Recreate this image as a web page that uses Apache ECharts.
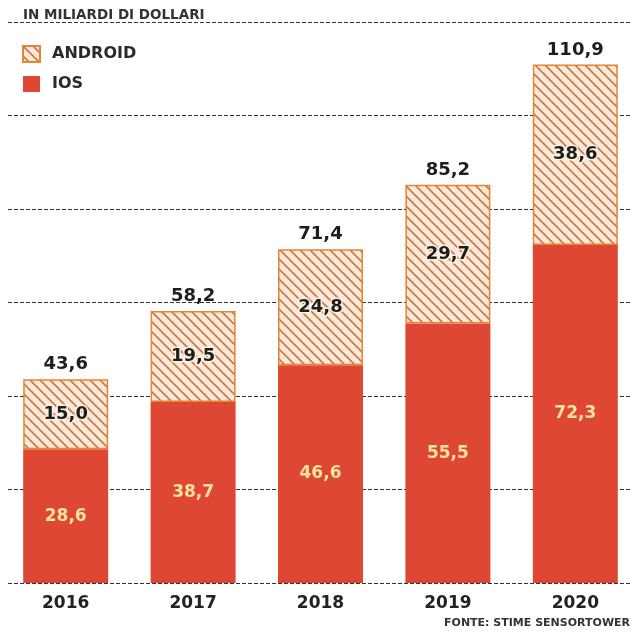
<!DOCTYPE html>
<html><head><meta charset="utf-8">
<script src="https://cdn.jsdelivr.net/npm/echarts@6/dist/echarts.min.js"></script>
<style>html,body{margin:0;padding:0;background:#fff}#c{width:640px;height:635px}</style>
</head><body><div id="c"></div>
<script>
const years = ['2016','2017','2018','2019','2020'];
const iosValues = [28.6, 38.7, 46.6, 55.5, 72.3];
const androidValues = [15.0, 19.5, 24.8, 29.7, 38.6];
const totalValues = [43.6, 58.2, 71.4, 85.2, 110.9];

const FONT = '"DejaVu Sans", sans-serif';
const RED = '#de4733';

function hatch(){
  const c = document.createElement('canvas');
  c.width = c.height = 10;
  const g = c.getContext('2d');
  g.fillStyle = '#fbe9d8'; g.fillRect(0,0,10,10);
  g.strokeStyle = '#c9764a'; g.lineWidth = 1.6;
  g.beginPath();
  g.moveTo(-2,-2); g.lineTo(12,12);
  g.moveTo(-2,8); g.lineTo(2,12);
  g.moveTo(8,-2); g.lineTo(12,2);
  g.stroke();
  return c;
}

const chart = echarts.init(document.getElementById('c'), null, {renderer:'canvas'});
const fmt = p => p.value.toFixed(1).replace('.', ',');
chart.setOption({
  animation:false,
  title:[
    {text:'IN MILIARDI DI DOLLARI', left:18, top:3, textStyle:{fontFamily:FONT, fontWeight:'bold', fontSize:13.5, color:'#333'}},
    {text:'FONTE: STIME SENSORTOWER', right:5, top:613, textStyle:{fontFamily:FONT, fontWeight:'bold', fontSize:11, color:'#333'}}
  ],
  legend:{
    data:['ANDROID','IOS'], orient:'vertical', left:17, top:40, itemWidth:17, itemHeight:16, itemGap:13,
    icon:'rect',
    textStyle:{fontFamily:FONT, fontWeight:'bold', fontSize:16, color:'#2a2a2a', padding:[0,0,0,7]}
  },
  grid:[
    {left:2, right:1, top:22, bottom:52},
    {left:8, right:8, top:22, bottom:52}
  ],
  xAxis:[
    {type:'category', data:years, gridIndex:0, axisLine:{show:false}, axisTick:{show:false},
     axisLabel:{margin:12, fontFamily:FONT, fontWeight:'bold', fontSize:17, color:'#222'}},
    {type:'value', gridIndex:1, min:0, max:1, show:false}
  ],
  yAxis:[
    {type:'value', gridIndex:0, min:0, max:120, interval:20, show:false, splitLine:{show:false}},
    {type:'value', gridIndex:1, min:0, max:120, interval:20, axisLabel:{show:false}, axisLine:{show:false}, axisTick:{show:false},
     splitLine:{show:true, lineStyle:{color:'#333', width:1.2, type:[4,2]}}}
  ],
  series:[
    {name:'IOS', type:'bar', stack:'t', data:iosValues, barWidth:85, z:3,
     itemStyle:{color:RED},
     label:{show:true, position:'inside', formatter:fmt, fontFamily:FONT, fontWeight:'bold', fontSize:17, color:'#f7e2a0'}},
    {name:'ANDROID', type:'bar', stack:'t', data:androidValues, barWidth:85, z:3,
     itemStyle:{color:{image:hatch(), repeat:'repeat'}, borderColor:'#e8832f', borderWidth:1.5},
     label:{show:true, position:'inside', formatter:fmt, fontFamily:FONT, fontWeight:'bold', fontSize:18, color:'#1e1e1e',
            textBorderColor:'#fdf1e4', textBorderWidth:3}},
    {name:'TOT', type:'line', data:totalValues, symbol:'circle', symbolSize:1, z:4,
     itemStyle:{color:'rgba(0,0,0,0)'}, lineStyle:{opacity:0},
     label:{show:true, position:'top', distance:5, formatter:fmt, fontFamily:FONT, fontWeight:'bold', fontSize:18, color:'#1e1e1e'}}
  ]
});
</script></body></html>
